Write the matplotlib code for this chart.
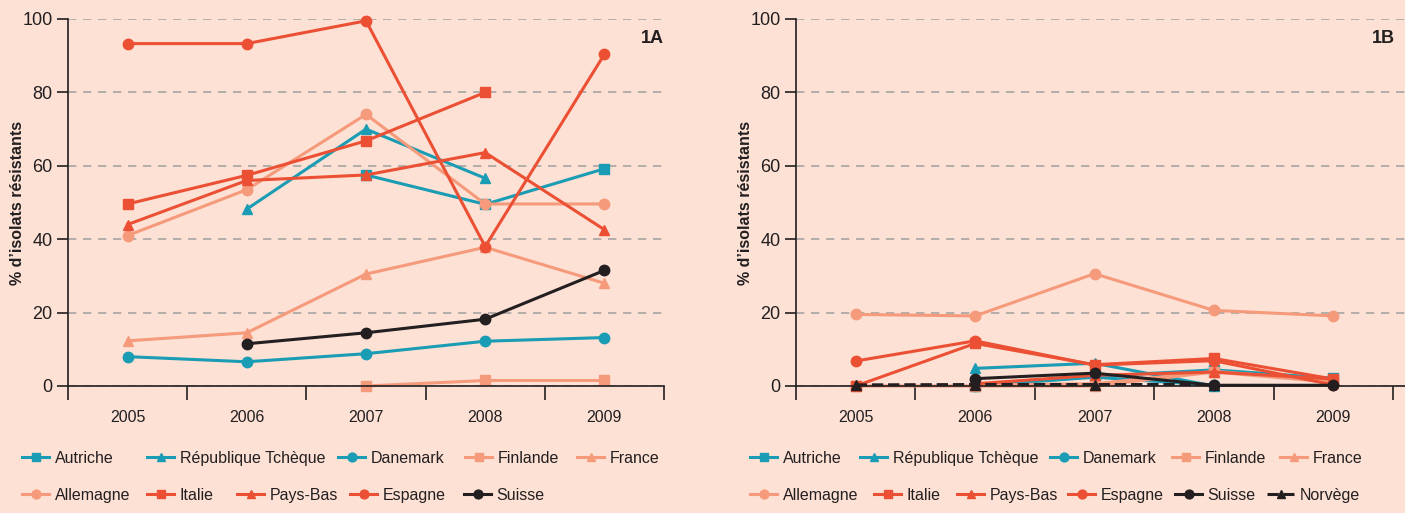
import numpy as np
import matplotlib
matplotlib.use('Agg')
import matplotlib.pyplot as plt

nan = np.nan

# données
annees = ['2005', '2006', '2007', '2008', '2009']

pays = ['Autriche', 'République Tchèque', 'Danemark', 'Finlande', 'France',
        'Allemagne', 'Italie', 'Pays-Bas', 'Espagne', 'Suisse', 'Norvège']

# panneau 1A
autriche_a = [nan, nan, 57.5, 49.5, 59.2]
tcheque_a = [nan, 48.2, 70.0, 56.6, nan]
danemark_a = [8.0, 6.6, 8.8, 12.2, 13.2]
finlande_a = [nan, nan, 0.0, 1.5, 1.5]
france_a = [12.3, 14.5, 30.5, 37.8, 28.0]
allemagne_a = [41.0, 53.5, 74.0, 49.6, 49.6]
italie_a = [49.6, 57.4, 66.8, 80.0, nan]
paysbas_a = [44.0, 56.0, 57.5, 63.6, 42.6]
espagne_a = [93.3, 93.3, 99.5, 38.0, 90.4]
suisse_a = [nan, 11.5, 14.5, 18.2, 31.5]

# panneau 1B
autriche_b = [nan, 0.0, 2.6, 4.4, 2.1]
tcheque_b = [nan, 4.8, 6.2, 0.0, nan]
danemark_b = [nan, 0.0, 2.4, 0.2, nan]
finlande_b = [0.0, 0.0, 0.0, 3.8, 1.0]
france_b = [nan, 0.3, 0.6, 4.0, 1.4]
allemagne_b = [19.5, 19.1, 30.6, 20.6, 19.1]
italie_b = [0.0, 11.6, 5.8, 7.5, 1.9]
paysbas_b = [nan, 0.6, 2.9, 3.8, 1.9]
espagne_b = [6.8, 12.3, 5.7, 6.9, 0.3]
suisse_b = [nan, 2.0, 3.5, 0.2, 0.2]
norvege_b = [0.3, 0.4, 0.4, 0.4, nan]

data_a = [autriche_a, tcheque_a, danemark_a, finlande_a, france_a,
          allemagne_a, italie_a, paysbas_a, espagne_a, suisse_a, None]
data_b = [autriche_b, tcheque_b, danemark_b, finlande_b, france_b,
          allemagne_b, italie_b, paysbas_b, espagne_b, suisse_b, norvege_b]

bleu = '#1a9cb4'
saumon = '#f59a7b'
rouge = '#ec5034'
noir = '#231f20'
fond = '#fde1d5'

couleurs = [bleu, bleu, bleu, saumon, saumon, saumon, rouge, rouge, rouge, noir, noir]
marqueurs = ['s', '^', 'o', 's', '^', 'o', 's', '^', 'o', 'o', '^']
styles = ['-'] * 10 + ['--']

police = ['Liberation Sans', 'DejaVu Sans']

fig = plt.figure(figsize=(14.05, 5.13), dpi=100, facecolor=fond)
ax1 = fig.add_axes([68 / 1405, 127 / 513, 596 / 1405, 367 / 513])
ax2 = fig.add_axes([796 / 1405, 127 / 513, 609 / 1405, 367 / 513])


def panneau(ax, donnees, titre, xmax, xtitre, xlabel):
    ax.set_facecolor(fond)
    x = np.arange(len(annees))
    lignes = []
    for nom, y, c, m, ls in zip(pays, donnees, couleurs, marqueurs, styles):
        if y is None:
            continue
        l, = ax.plot(x, y, color=c, marker=m, linestyle=ls, linewidth=2.2,
                     markersize=7.5, label=nom, clip_on=False)
        lignes.append(l)
    ax.set_xlim(-0.5, xmax)
    ax.set_ylim(0, 100)
    ax.set_yticks([0, 20, 40, 60, 80, 100])
    ax.yaxis.grid(True, linestyle=(0, (5, 4)), color='#a8a4a2', linewidth=1.2)
    ax.set_axisbelow(True)
    ax.set_xticks(x)
    ax.set_xticklabels(annees, fontsize=11.5, family=police, color=noir)
    ax.set_xticks(np.arange(-0.5, 5, 1.0), minor=True)
    ax.tick_params(axis='x', which='major', length=0, pad=17)
    ax.tick_params(axis='x', which='minor', length=10, width=1.2, color=noir)
    ax.tick_params(axis='y', length=8, width=1.2, color=noir, pad=3)
    for t in ax.get_yticklabels():
        t.set_family(police)
        t.set_fontsize(13)
        t.set_color(noir)
    for s in ['top', 'right']:
        ax.spines[s].set_visible(False)
    for s in ['left', 'bottom']:
        ax.spines[s].set_color(noir)
        ax.spines[s].set_linewidth(1.2)
    ax.set_ylabel('% d’isolats résistants', fontsize=11.5, fontweight='bold',
                  family=police, color=noir)
    ax.yaxis.set_label_coords(xlabel, 0.5)
    ax.text(xtitre, 0.948, titre, transform=ax.transAxes, ha='right', va='center',
            fontsize=13, fontweight='bold', family=police, color=noir)
    return lignes


lignes_a = panneau(ax1, data_a, '1A', 4.5, 1.0, -0.072)
lignes_b = panneau(ax2, data_b, '1B', 4.6, 0.983, -0.0706)

# position (px) du début de chaque entrée de légende
pos_a = [22, 147, 338, 465, 577, 22, 147, 237, 350, 464]
pos_b = [750, 860, 1050, 1172, 1280, 750, 874, 957, 1068, 1175, 1267]


def legende(lignes, positions):
    for i, (l, px) in enumerate(zip(lignes, positions)):
        y0 = 0.107 if i < 5 else 0.035
        leg = fig.legend(handles=[l], loc='center left', bbox_to_anchor=(px / 1405, y0),
                         frameon=False, handlelength=1.7, handletextpad=0.35,
                         borderpad=0, borderaxespad=0, markerscale=0.85,
                         prop={'family': police, 'size': 11.5})
        for t in leg.get_texts():
            t.set_color(noir)


legende(lignes_a, pos_a)
legende(lignes_b, pos_b)

fig.savefig('out.png', dpi=100, facecolor=fond)
